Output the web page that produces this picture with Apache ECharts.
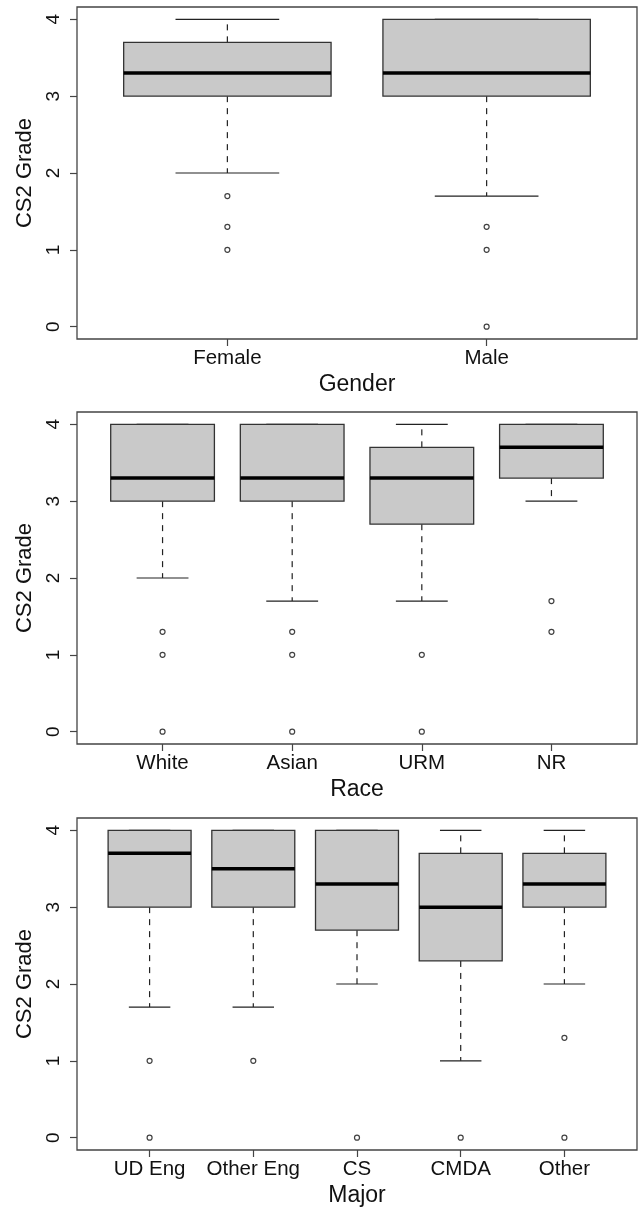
<!DOCTYPE html>
<html>
<head>
<meta charset="utf-8">
<title>CS2 Grade by Gender, Race and Major</title>
<script src="https://cdn.jsdelivr.net/npm/echarts@6/dist/echarts.min.js"></script>
<style>
    html, body { margin: 0; padding: 0; background: #fff; }
    #chart { width: 640px; height: 1207px; }
</style>
</head>
<body>
<div id="chart"></div>
<script>
// each box: [lower whisker, Q1, median, Q3, upper whisker]
var genderCats = ['Female', 'Male'];
var genderStats = [[2.0, 3.0, 3.3, 3.7, 4.0], [1.7, 3.0, 3.3, 4.0, 4.0]];
var genderOutliers = [[1.7, 1.3, 1.0], [1.3, 1.0, 0]];

var raceCats = ['White', 'Asian', 'URM', 'NR'];
var raceStats = [
    [2.0, 3.0, 3.3, 4.0, 4.0],
    [1.7, 3.0, 3.3, 4.0, 4.0],
    [1.7, 2.7, 3.3, 3.7, 4.0],
    [3.0, 3.3, 3.7, 4.0, 4.0]
];
var raceOutliers = [[1.3, 1.0, 0], [1.3, 1.0, 0], [1.0, 0], [1.7, 1.3]];

var majorCats = ['UD Eng', 'Other Eng', 'CS', 'CMDA', 'Other'];
var majorStats = [
    [1.7, 3.0, 3.7, 4.0, 4.0],
    [1.7, 3.0, 3.5, 4.0, 4.0],
    [2.0, 2.7, 3.3, 4.0, 4.0],
    [1.0, 2.3, 3.0, 3.7, 4.0],
    [2.0, 3.0, 3.3, 3.7, 4.0]
];
var majorOutliers = [[1.0, 0], [1.0], [0], [0], [1.3, 0]];

var gradeTicks = [0, 1, 2, 3, 4];
var yTitle = 'CS2 Grade';

var panels = [
    {title: 'Gender', cats: genderCats, stats: genderStats, outliers: genderOutliers, top: 7},
    {title: 'Race', cats: raceCats, stats: raceStats, outliers: raceOutliers, top: 412},
    {title: 'Major', cats: majorCats, stats: majorStats, outliers: majorOutliers, top: 818}
];

var font = 'Liberation Sans, Arial, Helvetica, sans-serif';
var ink = '#222';

function renderBox(params, api) {
    var x = api.value(0);
    var lo = api.coord([x, api.value(1)]);
    var q1 = api.coord([x, api.value(2)]);
    var med = api.coord([x, api.value(3)]);
    var q3 = api.coord([x, api.value(4)]);
    var hi = api.coord([x, api.value(5)]);
    var half = api.size([0.4, 0])[0];
    var cap = half / 2;
    var cx = med[0];
    var dashed = {stroke: ink, lineWidth: 1.2, lineDash: [6, 6]};
    var solid = {stroke: ink, lineWidth: 1.2};
    return {
        type: 'group',
        children: [
            {type: 'line', shape: {x1: cx, y1: q3[1], x2: cx, y2: hi[1]}, style: dashed},
            {type: 'line', shape: {x1: cx, y1: q1[1], x2: cx, y2: lo[1]}, style: dashed},
            {type: 'line', shape: {x1: cx - cap, y1: hi[1], x2: cx + cap, y2: hi[1]}, style: solid},
            {type: 'line', shape: {x1: cx - cap, y1: lo[1], x2: cx + cap, y2: lo[1]}, style: solid},
            {type: 'rect', shape: {x: cx - half, y: q3[1], width: half * 2, height: q1[1] - q3[1]},
                style: {fill: '#c9c9c9', stroke: '#333', lineWidth: 1.3}},
            {type: 'line', shape: {x1: cx - half, y1: med[1], x2: cx + half, y2: med[1]},
                style: {stroke: '#000', lineWidth: 3.5}}
        ]
    };
}

var grids = [], xAxes = [], yAxes = [], series = [];

panels.forEach(function (p, i) {
    var n = p.cats.length;
    var pos = p.cats.map(function (c, k) { return k + 1; });

    grids.push({
        left: 77, top: p.top, width: 560, height: 332,
        show: true, borderColor: '#444', borderWidth: 1.3,
        outerBoundsMode: 'none'
    });

    xAxes.push({
        gridIndex: i,
        type: 'value',
        position: 'bottom',
        min: 0.5 - 0.04 * n,
        max: n + 0.5 + 0.04 * n,
        name: p.title,
        nameLocation: 'middle',
        nameGap: 34,
        nameTextStyle: {fontFamily: font, fontSize: 23, color: '#111'},
        axisLine: {show: false, onZero: false},
        splitLine: {show: false},
        axisTick: {show: true, customValues: pos, length: 7, lineStyle: {color: '#444', width: 1.2}},
        axisLabel: {
            customValues: pos,
            margin: 9,
            fontFamily: font, fontSize: 20.5, color: '#111',
            formatter: function (v) { return p.cats[Math.round(v) - 1]; }
        }
    });

    yAxes.push({
        gridIndex: i,
        type: 'value',
        position: 'left',
        min: -0.16,
        max: 4.16,
        name: yTitle,
        nameLocation: 'middle',
        nameGap: 40,
        nameTextStyle: {fontFamily: font, fontSize: 22, color: '#111'},
        axisLine: {show: false, onZero: false},
        splitLine: {show: false},
        axisTick: {show: true, customValues: gradeTicks, length: 7, lineStyle: {color: '#444', width: 1.2}},
        axisLabel: {
            customValues: gradeTicks,
            rotate: 90,
            margin: 14,
            fontFamily: font, fontSize: 19, color: '#111'
        }
    });

    series.push({
        type: 'custom',
        xAxisIndex: i,
        yAxisIndex: i,
        renderItem: renderBox,
        dimensions: ['pos', 'lo', 'q1', 'med', 'q3', 'hi'],
        encode: {x: 0, y: [1, 2, 3, 4, 5]},
        data: p.stats.map(function (s, k) { return [k + 1].concat(s); }),
        silent: true
    });

    var pts = [];
    p.outliers.forEach(function (vals, k) {
        vals.forEach(function (v) { pts.push([k + 1, v]); });
    });
    series.push({
        type: 'scatter',
        xAxisIndex: i,
        yAxisIndex: i,
        symbol: 'circle',
        symbolSize: 5,
        itemStyle: {color: 'rgba(0,0,0,0)', borderColor: '#111', borderWidth: 1.2},
        data: pts,
        silent: true,
        z: 5
    });
});

var myChart = echarts.init(document.getElementById('chart'), null, {renderer: 'canvas'});
myChart.setOption({
    animation: false,
    backgroundColor: '#fff',
    grid: grids,
    xAxis: xAxes,
    yAxis: yAxes,
    series: series
});
</script>
</body>
</html>
